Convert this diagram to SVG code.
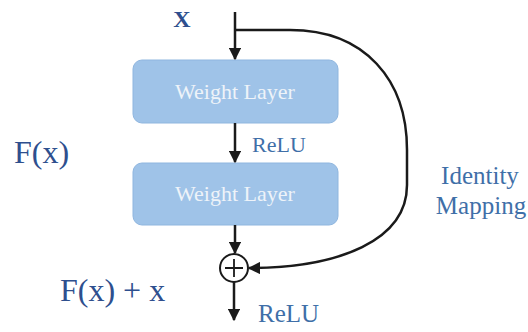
<svg xmlns="http://www.w3.org/2000/svg" width="528" height="332" viewBox="0 0 528 332">
<defs>
<marker id="ah" viewBox="0 0 10 10" refX="9" refY="5" markerWidth="5" markerHeight="5" orient="auto" markerUnits="strokeWidth"><path d="M0,0 L10,5 L0,10 z" fill="#1a1a1a"/></marker>
<style>
.box{fill:#9fc3e8;stroke:#8fb6df;stroke-width:1}
.wl{font-family:"Liberation Serif",serif;font-size:22px;fill:#eef3f9;text-anchor:middle}
.ln{fill:none;stroke:#1a1a1a;stroke-width:2.5}
.lbl{font-family:"Liberation Serif",serif;fill:#3f6fa8}
.dk{font-family:"Liberation Serif",serif;fill:#2e4f8e}
</style>
</defs>
<rect width="528" height="332" fill="#ffffff"/>
<g id="input"><text class="dk" x="182" y="27" font-size="24" font-weight="bold" text-anchor="middle">X</text></g>
<g id="layer1"><rect class="box" x="133" y="60" width="205" height="63" rx="9"/><text class="wl" x="235" y="99">Weight Layer</text></g>
<g id="layer2"><rect class="box" x="133" y="163" width="205" height="62" rx="9"/><text class="wl" x="235" y="201">Weight Layer</text></g>
<g id="sum"><circle cx="234" cy="268" r="14" fill="#ffffff" stroke="#1a1a1a" stroke-width="2"/><path d="M234,259 V277 M225,268 H243" stroke="#1a1a1a" stroke-width="1.8"/></g>
<g id="labels">
<text class="lbl" x="252" y="152" font-size="22">ReLU</text>
<text class="lbl" x="258" y="322" font-size="25">ReLU</text>
<text class="dk" x="14" y="163" font-size="32">F(x)</text>
<text class="dk" x="60" y="301" font-size="32">F(x) + x</text>
<text class="lbl" x="480" y="184" font-size="25" text-anchor="middle">Identity</text>
<text class="lbl" x="481" y="214" font-size="25" text-anchor="middle">Mapping</text>
</g>
<g id="connectors">
<path class="ln" d="M235,12 V59" marker-end="url(#ah)"/>
<path class="ln" d="M235,123 V162" marker-end="url(#ah)"/>
<path class="ln" d="M235,225 V253" marker-end="url(#ah)"/>
<path class="ln" d="M234,282 V320" marker-end="url(#ah)"/>
<path class="ln" d="M235,30 H290 C365,30 407,80 407,150 V185 C407,240 340,268 249,268" marker-end="url(#ah)"/>
</g>
</svg>
